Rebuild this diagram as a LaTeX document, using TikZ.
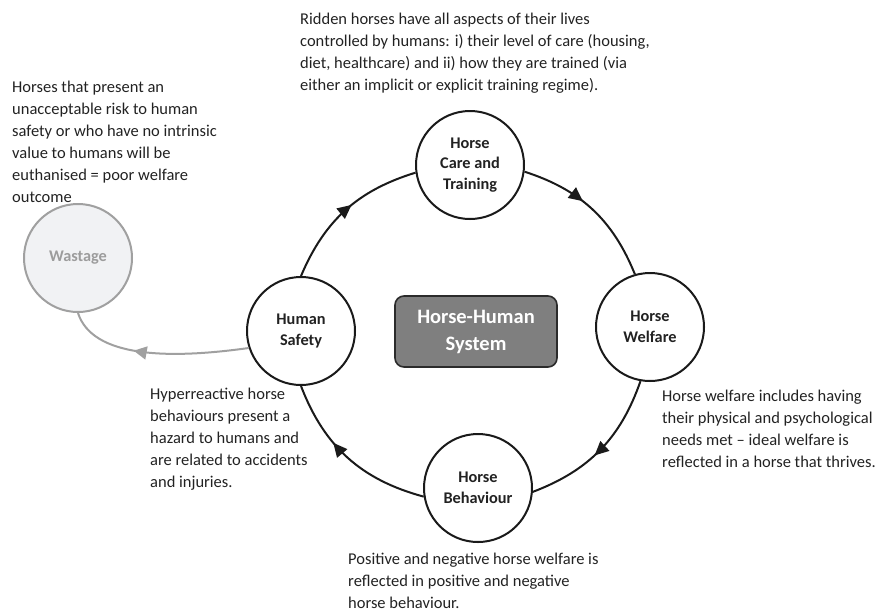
\documentclass[tikz,border=0pt]{standalone}
\usepackage{fontspec}
\setmainfont{Carlito}
\usetikzlibrary{arrows.meta,decorations.markings}
\definecolor{txt}{HTML}{222222}
\definecolor{ln}{HTML}{1A1A1A}
\definecolor{wgray}{HTML}{A0A0A0}
\definecolor{wfill}{HTML}{F1F2F4}
\definecolor{wtext}{HTML}{9C9C9C}
\definecolor{boxfill}{HTML}{7F7F7F}
\definecolor{boxline}{HTML}{2B2B2B}
\newcommand{\mlines}[1]{\vtop{\baselineskip=22pt\relax #1}}
\tikzset{
  stage/.style={circle, draw=ln, line width=2pt, fill=white, minimum size=108pt,
    inner sep=0pt, align=center, text=txt,
    font=\bfseries\fontsize{16.3}{20.5}\selectfont},
  note/.style={anchor=base west, inner sep=0pt, text=txt,
    font=\fontsize{16.5}{22}\selectfont},
  cyc/.style={color=ln, line width=2pt, postaction={decorate},
    decoration={markings, mark=at position #1 with
      {\arrow{Triangle[length=14pt,width=13pt]}}}},
  waste/.style={color=wgray, line width=2pt, postaction={decorate},
    decoration={markings, mark=at position #1 with
      {\arrow{Triangle[length=13pt,width=13pt]}}}},
}
\begin{document}
\begin{tikzpicture}[x=1pt,y=1pt]
\useasboundingbox (0,0) rectangle (877,-611);

\node[stage] (care) at (470,-165) {Horse\\Care and\\Training};
\node[stage] (welfare) at (650,-327) {Horse\\Welfare};
\node[stage] (behav) at (478,-488) {Horse\\Behaviour};
\node[stage] (safety) at (301,-331) {Human\\Safety};
\node[stage, draw=wgray, fill=wfill, text=wtext] (wastage) at (78,-258) {Wastage};
\node[draw=boxline, fill=boxfill, line width=1.6pt, rounded corners=9pt,
  minimum width=162pt, minimum height=71pt, text=white, align=center,
  font=\bfseries\fontsize{20.5}{27}\selectfont] (system) at (476,-331.5) {Horse-Human\\System};

\draw[cyc=0.55] (safety.north) to[bend left=25] (care.188);
\draw[cyc=0.42] (care.-7) to[bend left=25] (welfare.106);
\draw[cyc=0.55] (welfare.260) to[bend left=25] (behav.-4);
\draw[cyc=0.62] (behav.189) to[bend left=27] (safety.south);
\draw[waste=0.62] (safety.198) .. controls +(188:81) and +(-72:47) .. (wastage.south);

\node[note] (ntop) at (300,-24) {\mlines{\hbox{Ridden horses have all aspects of their lives}\hbox{controlled by humans: i) their level of care (housing,}\hbox{diet, healthcare) and ii) how they are trained (via}\hbox{either an implicit or explicit training regime).}}};
\node[note] (nleft) at (12,-92) {\mlines{\hbox{Horses that present an}\hbox{unacceptable risk to human}\hbox{safety or who have no intrinsic}\hbox{value to humans will be}\hbox{euthanised = poor welfare}\hbox{outcome}}};
\node[note] (nhyper) at (150,-399) {\mlines{\hbox{Hyperreactive horse}\hbox{behaviours present a}\hbox{hazard to humans and}\hbox{are related to accidents}\hbox{and injuries.}}};
\node[note] (nwelf) at (662,-401) {\mlines{\hbox{Horse welfare includes having}\hbox{their physical and psychological}\hbox{needs met -- ideal welfare is}\hbox{reflected in a horse that thrives.}}};
\node[note] (npos) at (348,-564) {\mlines{\hbox{Positive and negative horse welfare is}\hbox{reflected in positive and negative}\hbox{horse behaviour.}}};
\end{tikzpicture}
\end{document}
